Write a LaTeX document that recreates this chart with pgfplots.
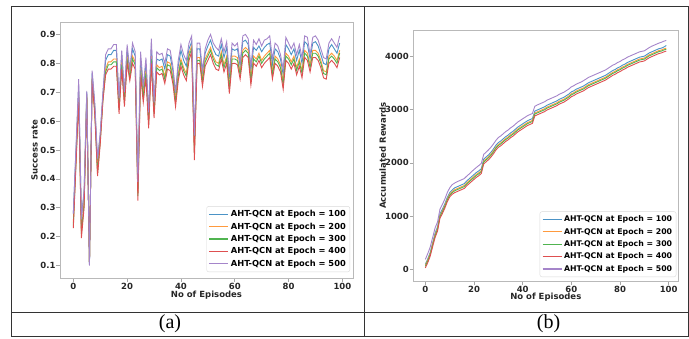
\documentclass[border=0pt]{standalone}
\usepackage{pgfplots}
\usepackage{pgfplotstable}
\pgfplotsset{compat=1.18}
\usepackage{fontspec}
\setmainfont{DejaVu Sans}
\newfontfamily\capfont{Liberation Serif}

\definecolor{c1}{HTML}{4B93C6}
\definecolor{c2}{HTML}{FF9A3E}
\definecolor{c3}{HTML}{50B450}
\definecolor{c4}{HTML}{DE4F50}
\definecolor{c5}{HTML}{A585CA}

\pgfplotstableread{
e b o g r p
0 0.28 0.25 0.24 0.23 0.28
1 0.50 0.47 0.46 0.45 0.51
2 0.72 0.70 0.69 0.68 0.745
3 0.27 0.22 0.21 0.195 0.26
4 0.35 0.32 0.31 0.30 0.36
5 0.70 0.69 0.685 0.68 0.705
6 0.105 0.11 0.11 0.11 0.10
7 0.765 0.75 0.745 0.74 0.775
8 0.65 0.635 0.63 0.62 0.66
9 0.46 0.43 0.42 0.41 0.47
10 0.55 0.535 0.53 0.52 0.56
11 0.69 0.68 0.675 0.67 0.70
12 0.81 0.78 0.77 0.76 0.83
13 0.83 0.805 0.795 0.78 0.85
14 0.83 0.805 0.795 0.78 0.85
15 0.845 0.815 0.805 0.79 0.865
16 0.845 0.815 0.805 0.79 0.865
17 0.67 0.65 0.64 0.625 0.68
18 0.83 0.805 0.795 0.78 0.845
19 0.69 0.675 0.665 0.65 0.70
20 0.845 0.82 0.81 0.80 0.865
21 0.77 0.76 0.75 0.74 0.78
22 0.85 0.825 0.815 0.80 0.87
23 0.825 0.805 0.795 0.78 0.84
24 0.37 0.35 0.34 0.325 0.39
25 0.815 0.785 0.775 0.76 0.84
26 0.71 0.69 0.68 0.665 0.72
27 0.80 0.775 0.765 0.75 0.82
28 0.62 0.60 0.59 0.575 0.63
29 0.86 0.825 0.815 0.80 0.885
30 0.655 0.635 0.625 0.61 0.665
31 0.815 0.795 0.785 0.77 0.84
32 0.81 0.785 0.775 0.76 0.83
33 0.815 0.79 0.78 0.765 0.835
34 0.78 0.755 0.745 0.73 0.80
35 0.83 0.805 0.795 0.78 0.85
36 0.825 0.80 0.79 0.775 0.845
37 0.775 0.755 0.745 0.73 0.79
38 0.69 0.675 0.665 0.65 0.70
39 0.79 0.765 0.755 0.74 0.81
40 0.845 0.815 0.805 0.79 0.865
41 0.81 0.785 0.775 0.76 0.83
42 0.79 0.765 0.755 0.74 0.81
43 0.85 0.835 0.825 0.81 0.87
44 0.875 0.86 0.85 0.84 0.895
45 0.53 0.50 0.49 0.465 0.55
46 0.85 0.82 0.81 0.80 0.87
47 0.85 0.82 0.81 0.80 0.87
48 0.765 0.745 0.735 0.72 0.775
49 0.835 0.815 0.805 0.79 0.85
50 0.86 0.835 0.825 0.81 0.88
51 0.88 0.855 0.845 0.83 0.90
52 0.85 0.825 0.815 0.80 0.87
53 0.83 0.805 0.795 0.78 0.855
54 0.825 0.80 0.79 0.775 0.845
55 0.865 0.84 0.83 0.815 0.885
56 0.82 0.795 0.785 0.77 0.84
57 0.855 0.825 0.815 0.80 0.875
58 0.745 0.72 0.71 0.695 0.765
59 0.85 0.825 0.815 0.80 0.87
60 0.845 0.825 0.815 0.80 0.86
61 0.85 0.82 0.81 0.795 0.87
62 0.79 0.77 0.76 0.745 0.80
63 0.875 0.845 0.835 0.82 0.895
64 0.88 0.855 0.845 0.83 0.90
65 0.865 0.845 0.835 0.82 0.885
66 0.775 0.75 0.74 0.725 0.79
67 0.855 0.825 0.815 0.80 0.88
68 0.845 0.815 0.805 0.79 0.865
69 0.86 0.835 0.825 0.81 0.885
70 0.84 0.81 0.80 0.785 0.86
71 0.855 0.825 0.815 0.80 0.88
72 0.865 0.835 0.825 0.81 0.885
73 0.87 0.845 0.835 0.82 0.895
74 0.795 0.77 0.76 0.745 0.815
75 0.85 0.825 0.815 0.80 0.87
76 0.84 0.815 0.805 0.79 0.86
77 0.815 0.795 0.785 0.77 0.83
78 0.76 0.735 0.725 0.71 0.78
79 0.865 0.835 0.825 0.81 0.89
80 0.85 0.825 0.815 0.80 0.87
81 0.83 0.805 0.795 0.78 0.85
82 0.85 0.825 0.815 0.80 0.87
83 0.81 0.785 0.775 0.76 0.83
84 0.845 0.815 0.805 0.79 0.865
85 0.80 0.775 0.765 0.75 0.82
86 0.875 0.845 0.835 0.82 0.895
87 0.865 0.835 0.825 0.81 0.89
88 0.815 0.795 0.785 0.77 0.83
89 0.87 0.845 0.835 0.82 0.89
90 0.875 0.845 0.835 0.82 0.895
91 0.86 0.835 0.825 0.81 0.88
92 0.83 0.81 0.80 0.785 0.85
93 0.80 0.775 0.765 0.75 0.82
94 0.795 0.77 0.76 0.745 0.815
95 0.85 0.825 0.815 0.80 0.87
96 0.865 0.835 0.825 0.81 0.885
97 0.85 0.825 0.815 0.80 0.87
98 0.835 0.81 0.80 0.785 0.855
99 0.87 0.845 0.835 0.82 0.895
}\tblA

\pgfplotstableread{
e b o g r p
0 100 80 60 30 190
1 200 180 160 130 300
2 320 300 280 250 420
3 500 480 460 430 600
4 680 650 630 600 780
5 800 770 750 720 890
6 1040 1010 990 960 1130
7 1130 1100 1080 1050 1220
8 1230 1200 1180 1150 1320
9 1350 1320 1300 1270 1440
10 1440 1410 1390 1360 1530
11 1490 1460 1440 1410 1590
12 1530 1495 1475 1440 1620
13 1550 1515 1495 1460 1645
14 1570 1535 1515 1480 1665
15 1590 1555 1535 1500 1685
16 1610 1575 1555 1520 1705
17 1660 1625 1605 1570 1750
18 1700 1665 1645 1610 1790
19 1740 1705 1685 1650 1835
20 1780 1745 1725 1690 1875
21 1820 1785 1765 1730 1915
22 1850 1815 1795 1760 1950
23 1890 1855 1835 1800 1990
24 2070 2035 2015 1980 2160
25 2110 2075 2055 2020 2200
26 2150 2115 2095 2060 2245
27 2200 2165 2145 2110 2295
28 2260 2225 2205 2170 2355
29 2330 2295 2275 2240 2420
30 2380 2345 2325 2290 2475
31 2410 2375 2355 2320 2505
32 2450 2415 2395 2360 2545
33 2490 2455 2435 2400 2585
34 2520 2485 2465 2430 2615
35 2560 2525 2505 2470 2655
36 2590 2555 2535 2500 2685
37 2630 2595 2575 2540 2725
38 2670 2635 2615 2580 2765
39 2700 2665 2645 2610 2795
40 2730 2695 2675 2640 2825
41 2760 2725 2705 2670 2855
42 2790 2755 2735 2700 2885
43 2810 2775 2755 2720 2905
44 2830 2795 2775 2740 2925
45 2970 2935 2915 2880 3060
46 2990 2955 2935 2900 3085
47 3010 2975 2955 2920 3105
48 3030 2995 2975 2940 3125
49 3050 3015 2995 2960 3145
50 3080 3045 3025 2990 3175
51 3100 3065 3045 3010 3195
52 3120 3085 3065 3030 3215
53 3140 3105 3085 3050 3235
54 3160 3125 3105 3070 3255
55 3190 3155 3135 3100 3285
56 3210 3175 3155 3120 3305
57 3230 3195 3175 3140 3325
58 3260 3225 3205 3170 3355
59 3290 3255 3235 3200 3385
60 3330 3295 3275 3240 3425
61 3350 3315 3295 3260 3445
62 3380 3345 3325 3290 3475
63 3400 3365 3345 3310 3495
64 3420 3385 3365 3330 3515
65 3440 3405 3385 3350 3540
66 3470 3435 3415 3380 3570
67 3500 3465 3445 3410 3600
68 3520 3485 3465 3430 3620
69 3540 3505 3485 3450 3640
70 3560 3525 3505 3470 3660
71 3580 3545 3525 3490 3680
72 3600 3565 3545 3510 3700
73 3620 3585 3565 3530 3720
74 3640 3605 3585 3550 3740
75 3670 3635 3615 3580 3770
76 3700 3665 3645 3610 3800
77 3730 3695 3675 3640 3830
78 3750 3715 3695 3660 3850
79 3780 3745 3725 3690 3880
80 3800 3765 3745 3710 3900
81 3830 3795 3775 3740 3930
82 3850 3815 3795 3760 3950
83 3880 3845 3825 3790 3980
84 3900 3865 3845 3810 4000
85 3920 3885 3865 3830 4020
86 3940 3905 3885 3850 4040
87 3960 3925 3905 3870 4060
88 3980 3945 3925 3890 4080
89 3990 3955 3935 3900 4090
90 4000 3965 3945 3910 4100
91 4030 3995 3975 3940 4130
92 4060 4025 4005 3970 4160
93 4080 4045 4025 3990 4185
94 4100 4065 4045 4010 4205
95 4120 4085 4065 4030 4225
96 4140 4105 4085 4050 4245
97 4150 4115 4095 4060 4260
98 4170 4135 4115 4080 4280
99 4200 4150 4130 4095 4295
}\tblB

\pgfplotsset{
  mystyle/.style={
    scale only axis,
    axis line style={gray!55, line width=0.8pt},
    tick align=outside,
    xtick pos=bottom, ytick pos=left,
    major tick length=3.5pt,
    tick style={gray!70, line width=0.6pt},
    /pgf/number format/assume math mode=true,
    every tick label/.append style={font=\fontsize{8.5}{10}\selectfont\bfseries, text=black!85},
    xticklabel style={yshift=2pt},
    label style={font=\fontsize{8.5}{10}\selectfont\bfseries, text=black!85},
    xmin=-4.95, xmax=103.95,
    xtick={0,20,40,60,80,100},
    legend cell align=left,
    legend image code/.code={\draw[#1, line width=1.2pt] (0pt,0pt) -- (19pt,0pt);},
    every axis plot/.append style={line width=0.9pt},
  }
}

\begin{document}
\begin{tikzpicture}[x=1pt,y=1pt]
\useasboundingbox (0,0) rectangle (689,338);
\draw[black!80, line width=0.8pt] (11,2) rectangle (688,332);
\draw[black!80, line width=0.8pt] (11,26) -- (688,26);
\draw[black!80, line width=0.8pt] (364,2) -- (364,332);
\node[font=\capfont\fontsize{20}{22}\selectfont] at (170,14) {(a)};
\node[font=\capfont\fontsize{20}{22}\selectfont] at (548.5,14) {(b)};

\begin{axis}[mystyle,
  at={(60pt,60pt)}, anchor=south west,
  width=293pt, height=256pt,
  ymin=0.057, ymax=0.943,
  ytick={0.1,0.2,0.3,0.4,0.5,0.6,0.7,0.8,0.9},
  yticklabel style={xshift=2.5pt, /pgf/number format/.cd, fixed, fixed zerofill, precision=1},
  xlabel={No of Episodes}, ylabel={Success rate},
  xlabel style={at={(axis description cs:0.5,-0.068)}, anchor=center},
  ylabel style={at={(axis description cs:-0.087,0.5)}, anchor=center},
  legend style={at={(axis description cs:1,0)}, anchor=south east, xshift=-3pt, yshift=6pt,
    font=\fontsize{8.3}{9.5}\selectfont\bfseries, draw=gray!30, rounded corners=2pt,
    fill=white, row sep=0.6pt, inner sep=2pt},
]
\addplot[c1] table[x=e,y=b]{\tblA};
\addplot[c2] table[x=e,y=o]{\tblA};
\addplot[c3] table[x=e,y=g]{\tblA};
\addplot[c4] table[x=e,y=r]{\tblA};
\addplot[c5] table[x=e,y=p]{\tblA};
\legend{AHT-QCN at Epoch = 100, AHT-QCN at Epoch = 200, AHT-QCN at Epoch = 300, AHT-QCN at Epoch = 400, AHT-QCN at Epoch = 500}
\end{axis}

\begin{axis}[mystyle,
  at={(413.3pt,57pt)}, anchor=south west,
  width=265pt, height=251pt,
  ymin=-215, ymax=4490,
  ytick={0,1000,2000,3000,4000},
  yticklabel style={xshift=2.5pt, /pgf/number format/.cd, 1000 sep={}},
  xlabel={No of Episodes}, ylabel={Accumulated Rewards},
  xlabel style={at={(axis description cs:0.5,-0.066)}, anchor=center},
  ylabel style={at={(axis description cs:-0.1155,0.5)}, anchor=center},
  legend style={at={(axis description cs:1,0)}, anchor=south east, xshift=-2pt, yshift=4pt,
    font=\fontsize{7.8}{9}\selectfont\bfseries, draw=gray!30, rounded corners=2pt,
    fill=white, row sep=1pt, inner sep=2pt},
]
\addplot[c1] table[x=e,y=b]{\tblB};
\addplot[c2] table[x=e,y=o]{\tblB};
\addplot[c3] table[x=e,y=g]{\tblB};
\addplot[c4] table[x=e,y=r]{\tblB};
\addplot[c5] table[x=e,y=p]{\tblB};
\legend{AHT-QCN at Epoch = 100, AHT-QCN at Epoch = 200, AHT-QCN at Epoch = 300, AHT-QCN at Epoch = 400, AHT-QCN at Epoch = 500}
\end{axis}
\end{tikzpicture}
\end{document}
